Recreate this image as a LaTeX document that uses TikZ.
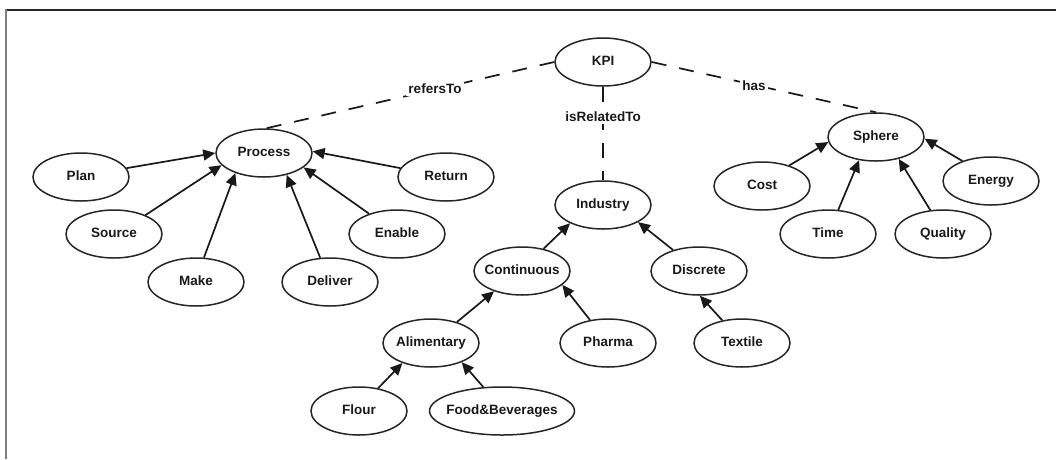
\documentclass[tikz,border=0pt]{standalone}
\usepackage{fontspec}
\setmainfont{Liberation Sans}
\usetikzlibrary{shapes.geometric,arrows.meta}
\newcommand\ctext[1]{\makebox[0pt]{#1}}
\begin{document}
\begin{tikzpicture}[x=1pt,y=-1pt,
  concept/.style={draw=black!85, line width=1.5pt, ellipse, minimum width=96pt, minimum height=48pt,
    inner sep=0pt, font=\fontsize{13.5}{16}\selectfont\bfseries, text=black!90, text height=1.5ex, text depth=.25ex},
  isa/.style={line width=1.7pt, black!90, -{Triangle[length=12pt,width=11pt]}},
  rel/.style={line width=1.7pt, black!90, dash pattern=on 15pt off 13pt},
  rellabel/.style={font=\fontsize{13.5}{16}\selectfont\bfseries, text=black!90, fill=white, inner sep=2pt}]
\useasboundingbox (0,0) rectangle (1056,459);
\fill[white] (0,0) rectangle (1056,459);
% frame
\draw[line width=2pt, black!85] (6,9.5) -- (1056,9.5);
\draw[line width=2pt, gray] (6,9) -- (6,459);
% nodes
\node[concept] (kpi) at (603,62) {\ctext{KPI}};
\node[concept] (process) at (264,153) {\ctext{Process}};
\node[concept] (plan) at (81,177) {\ctext{Plan}};
\node[concept] (source) at (114,234) {\ctext{Source}};
\node[concept] (make) at (196,282) {\ctext{Make}};
\node[concept] (deliver) at (330,282) {\ctext{Deliver}};
\node[concept] (enable) at (397,234) {\ctext{Enable}};
\node[concept] (return) at (446,177) {\ctext{Return}};
\node[concept] (industry) at (603,205) {\ctext{Industry}};
\node[concept] (continuous) at (522,271) {\ctext{Continuous}};
\node[concept] (discrete) at (699,271) {\ctext{Discrete}};
\node[concept] (alimentary) at (431,343) {\ctext{Alimentary}};
\node[concept] (pharma) at (608,343) {\ctext{Pharma}};
\node[concept] (textile) at (742,343) {\ctext{Textile}};
\node[concept] (flour) at (359,411) {\ctext{Flour}};
\node[concept, minimum width=145pt] (fb) at (502,411) {\ctext{Food\&Beverages}};
\node[concept] (sphere) at (876,137) {\ctext{Sphere}};
\node[concept] (cost) at (762,186) {\ctext{Cost}};
\node[concept] (time) at (828,234) {\ctext{Time}};
\node[concept] (quality) at (943,234) {\ctext{Quality}};
\node[concept] (energy) at (991,181) {\ctext{Energy}};
% dashed relations
\draw[rel] (kpi.west) -- (process.85);
\draw[rel] (kpi.east) -- (sphere.north);
\draw[rel] (kpi.south) -- (industry.north);
\node[rellabel] (lrefers) at (435,89) {refersTo};
\node[rellabel] (lisrel) at (603,117) {isRelatedTo};
\node[rellabel] (lhas) at (754,86) {has};
% process
\draw[isa] (plan.11) -- (process.180);
\draw[isa] (source.31) -- (process.196);
\draw[isa] (make.72) -- (process.215);
\draw[isa] (deliver.112) -- (process.316);
\draw[isa] (enable.144) -- (process.340);
\draw[isa] (return.169) -- (process.2);
% sphere
\draw[isa] (cost.37) -- (sphere.186);
\draw[isa] (time.67) -- (sphere.234);
\draw[isa] (quality.118) -- (sphere.316);
\draw[isa] (energy.145) -- (sphere.358);
% industry
\draw[isa] (continuous.46) -- (industry.209);
\draw[isa] (discrete.141) -- (industry.334);
\draw[isa] (pharma.128) -- (continuous.341);
\draw[isa] (textile.131) -- (discrete.272);
\draw[isa] (alimentary.39) -- (continuous.216);
\draw[isa] (flour.50) -- (alimentary.215);
\draw[isa] (fb.128) -- (alimentary.328);
\end{tikzpicture}
\end{document}
